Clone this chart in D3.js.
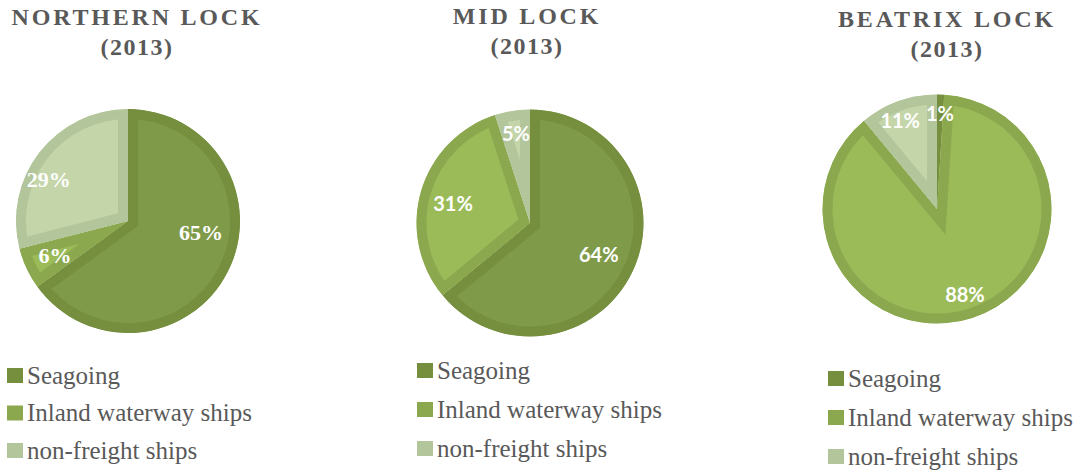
<!DOCTYPE html>
<html>
<head>
<meta charset="utf-8">
<script src="https://cdn.jsdelivr.net/npm/d3@7"></script>
<style>
  body { margin: 0; background: #fff; }
  svg { display: block; }
</style>
</head>
<body>
<svg id="chart" width="1077" height="470"></svg>
<script>
// data
var categories = ['Seagoing', 'Inland waterway ships', 'non-freight ships']
var locks = ['NORTHERN LOCK', 'MID LOCK', 'BEATRIX LOCK']
var year = '(2013)'
var northernLock = [65, 6, 29]
var midLock = [64, 31, 5]
var beatrixLock = [1, 88, 11]
var lockValues = [northernLock, midLock, beatrixLock]

// styling
var fills = ['#7f9b49', '#9bbb59', '#c5d5aa']
var borders = ['#758f3e', '#8ba84f', '#b3c59a']
var grey = '#595959'
var serif = 'Liberation Serif'
var sans = 'Lato'

// layout for each panel
var panels = [
  {cx: 128, cy: 221, r: 112, titleX: 137, titleY: 25, labelFont: serif, labelSize: 22,
   labelR: [0.66, 0.72, 0.8], labelRot: [-18, 0, -10],
   legendX: 7, legendY: 376, legendStep: 37.5},
  {cx: 530, cy: 223, r: 113.5, titleX: 527, titleY: 24, labelFont: sans, labelSize: 20,
   labelR: [0.67, 0.7, 0.79], labelRot: [0, -2, 0],
   legendX: 417, legendY: 371, legendStep: 39},
  {cx: 937, cy: 209, r: 114.5, titleX: 947, titleY: 27, labelFont: sans, labelSize: 20,
   labelR: [0.83, 0.79, 0.83], labelRot: [0, 0, -3],
   legendX: 828, legendY: 379, legendStep: 39}
]

var svg = d3.select('#chart')

var pie = d3.pie().sort(null).value(d => d)

panels.forEach((p, li) => {
  var g = svg.append('g')
  var arcs = pie(lockValues[li])
  var arc = d3.arc().innerRadius(0).outerRadius(p.r)

  var pieG = g.append('g').attr('transform', `translate(${p.cx},${p.cy})`)

  arcs.forEach((a, i) => {
    var id = 'clip-' + li + '-' + i
    pieG.append('clipPath').attr('id', id)
      .append('path').attr('d', arc(a))

    pieG.append('path')
      .attr('d', arc(a))
      .attr('fill', fills[i])
      .attr('stroke', borders[i])
      .attr('stroke-width', 20)
      .attr('stroke-linejoin', 'miter')
      .attr('clip-path', `url(#${id})`)
  })

  // percentage labels
  arcs.forEach((a, i) => {
    var mid = (a.startAngle + a.endAngle)/2 + p.labelRot[i]*Math.PI/180
    var rr = p.r*p.labelR[i]
    pieG.append('text')
      .attr('x', Math.sin(mid)*rr)
      .attr('y', -Math.cos(mid)*rr)
      .attr('dy', '0.35em')
      .attr('text-anchor', 'middle')
      .attr('fill', '#fff')
      .attr('font-family', p.labelFont)
      .attr('font-weight', 'bold')
      .attr('font-size', p.labelSize)
      .text(lockValues[li][i] + '%')
  })

  // title
  g.append('text')
    .attr('x', p.titleX)
    .attr('y', p.titleY)
    .attr('text-anchor', 'middle')
    .attr('fill', grey)
    .attr('font-family', serif)
    .attr('font-weight', 'bold')
    .attr('font-size', 24)
    .attr('letter-spacing', 2.8)
    .text(locks[li])

  g.append('text')
    .attr('x', p.titleX)
    .attr('y', p.titleY + 30)
    .attr('text-anchor', 'middle')
    .attr('fill', grey)
    .attr('font-family', serif)
    .attr('font-weight', 'bold')
    .attr('font-size', 24)
    .attr('letter-spacing', 1.5)
    .text(year)

  // legend
  var leg = g.selectAll('g.legend')
    .data(categories)
    .join('g')
    .attr('class', 'legend')
    .attr('transform', (d, i) => `translate(${p.legendX},${p.legendY + i*p.legendStep})`)

  leg.append('rect')
    .attr('x', 0).attr('y', -8)
    .attr('width', 16).attr('height', 15)
    .attr('fill', (d, i) => borders[i])

  leg.append('text')
    .attr('x', 20)
    .attr('y', 0)
    .attr('dy', '0.3em')
    .attr('fill', grey)
    .attr('font-family', serif)
    .attr('font-size', 25)
    .text(d => d)
})
</script>
</body>
</html>
